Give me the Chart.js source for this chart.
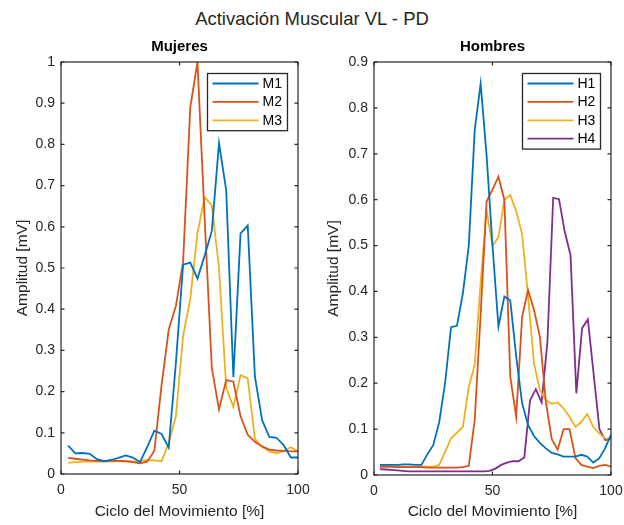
<!DOCTYPE html>
<html>
<head>
<meta charset="utf-8">
<script src="https://cdn.jsdelivr.net/npm/chart.js@4.4.1/dist/chart.umd.min.js"></script>
<style>
  body { margin: 0; background: #fff; }
  #wrap { position: relative; width: 624px; height: 525px; overflow: hidden; }
  #mainTitle { position: absolute; left: 0; top: 8px; width: 624px; text-align: center;
    font-family: "Liberation Sans", Arial, sans-serif; font-size: 18.5px; color: #262626; line-height: 22px; }
  canvas { position: absolute; top: 0; }
</style>
</head>
<body>
<div id="wrap">
  <div id="mainTitle">Activación Muscular VL - PD</div>
  <canvas id="chartMujeres" width="312" height="525" style="left:0"></canvas>
  <canvas id="chartHombres" width="312" height="525" style="left:312px"></canvas>
</div>
<script>
// --- datos: Mujeres (33 muestras del ciclo) ---
var cicloM = [3.03, 6.06, 9.09, 12.12, 15.15, 18.18, 21.21, 24.24, 27.27, 30.30, 33.33,
  36.36, 39.39, 42.42, 45.45, 48.48, 51.52, 54.55, 57.58, 60.61, 63.64, 66.67,
  69.70, 72.73, 75.76, 78.79, 81.82, 84.85, 87.88, 90.91, 93.94, 96.97, 100];
var M1 = [0.069, 0.050, 0.051, 0.049, 0.036, 0.031, 0.034, 0.039, 0.045, 0.040, 0.029,
  0.065, 0.105, 0.097, 0.064, 0.270, 0.508, 0.513, 0.474, 0.530, 0.590, 0.803,
  0.689, 0.235, 0.584, 0.603, 0.236, 0.131, 0.090, 0.088, 0.070, 0.040, 0.040];
var M2 = [0.039, 0.037, 0.035, 0.033, 0.032, 0.032, 0.032, 0.032, 0.031, 0.029, 0.026,
  0.030, 0.056, 0.215, 0.350, 0.408, 0.515, 0.890, 1.000, 0.620, 0.257, 0.157,
  0.228, 0.224, 0.140, 0.095, 0.078, 0.067, 0.059, 0.057, 0.056, 0.055, 0.055];
var M3 = [0.027, 0.029, 0.030, 0.030, 0.030, 0.030, 0.031, 0.031, 0.031, 0.030, 0.031,
  0.034, 0.033, 0.031, 0.075, 0.140, 0.335, 0.425, 0.585, 0.672, 0.652, 0.500,
  0.210, 0.163, 0.240, 0.232, 0.085, 0.066, 0.055, 0.050, 0.056, 0.065, 0.055];

// --- datos: Hombres (40 muestras del ciclo; H4 con 41) ---
var cicloH = [2.5, 5, 7.5, 10, 12.5, 15, 17.5, 20, 22.5, 25, 27.5, 30, 32.5, 35, 37.5, 40,
  42.5, 45, 47.5, 50, 52.5, 55, 57.5, 60, 62.5, 65, 67.5, 70, 72.5, 75, 77.5, 80,
  82.5, 85, 87.5, 90, 92.5, 95, 97.5, 100];
var cicloH4 = [2.44, 4.88, 7.32, 9.76, 12.2, 14.63, 17.07, 19.51, 21.95, 24.39, 26.83,
  29.27, 31.71, 34.15, 36.59, 39.02, 41.46, 43.9, 46.34, 48.78, 51.22, 53.66, 56.1,
  58.54, 60.98, 63.41, 65.85, 68.29, 70.73, 73.17, 75.61, 78.05, 80.49, 82.93, 85.37,
  87.8, 90.24, 92.68, 95.12, 97.56, 100];
var H1 = [0.022, 0.022, 0.022, 0.022, 0.023, 0.023, 0.022, 0.022, 0.045, 0.065, 0.115,
  0.200, 0.322, 0.325, 0.396, 0.500, 0.752, 0.853, 0.697, 0.500, 0.323, 0.389, 0.380,
  0.258, 0.156, 0.109, 0.085, 0.070, 0.058, 0.048, 0.045, 0.040, 0.040, 0.040, 0.044,
  0.040, 0.027, 0.036, 0.058, 0.088];
var H2 = [0.018, 0.018, 0.018, 0.017, 0.017, 0.017, 0.017, 0.017, 0.016, 0.016, 0.016,
  0.016, 0.016, 0.016, 0.017, 0.020, 0.120, 0.350, 0.596, 0.622, 0.650, 0.600, 0.214,
  0.127, 0.345, 0.403, 0.360, 0.301, 0.160, 0.078, 0.055, 0.100, 0.100, 0.037, 0.022,
  0.018, 0.015, 0.020, 0.022, 0.018];
var H3 = [0.020, 0.020, 0.019, 0.019, 0.018, 0.018, 0.018, 0.018, 0.018, 0.018, 0.022,
  0.050, 0.080, 0.092, 0.105, 0.192, 0.240, 0.420, 0.577, 0.500, 0.518, 0.600, 0.610,
  0.575, 0.525, 0.390, 0.243, 0.185, 0.163, 0.155, 0.158, 0.145, 0.127, 0.105, 0.116,
  0.133, 0.105, 0.091, 0.080, 0.078];
var H4 = [0.013, 0.012, 0.011, 0.010, 0.009, 0.008, 0.008, 0.008, 0.008, 0.008, 0.008,
  0.008, 0.008, 0.008, 0.008, 0.008, 0.008, 0.008, 0.008, 0.009, 0.014, 0.022, 0.027,
  0.030, 0.030, 0.038, 0.163, 0.187, 0.158, 0.290, 0.604, 0.601, 0.530, 0.479, 0.178,
  0.320, 0.339, 0.220, 0.100, 0.076, 0.078];

var xTicks = [0, 50, 100];

var colores = ['#0072BD', '#D95319', '#EDB120', '#7E2F8E'];
var ejeColor = '#262626';
var fuente = '"Liberation Sans", Arial, sans-serif';

function puntos(xs, ys) {
  return ys.map(function(v, i) { return { x: xs[i], y: v }; });
}

// caja estilo MATLAB con marcas hacia dentro
var cajaMatlab = {
  id: 'cajaMatlab',
  afterDraw: function(chart) {
    var ctx = chart.ctx, a = chart.chartArea;
    var sx = chart.scales.x, sy = chart.scales.y;
    var tl = 3.5;
    ctx.save();
    ctx.strokeStyle = ejeColor;
    ctx.lineWidth = 1.2;
    ctx.strokeRect(a.left, a.top, a.right - a.left, a.bottom - a.top);
    ctx.beginPath();
    sx.ticks.forEach(function(t) {
      var px = sx.getPixelForValue(t.value);
      ctx.moveTo(px, a.bottom); ctx.lineTo(px, a.bottom - tl);
      ctx.moveTo(px, a.top); ctx.lineTo(px, a.top + tl);
    });
    sy.ticks.forEach(function(t) {
      var py = sy.getPixelForValue(t.value);
      ctx.moveTo(a.left, py); ctx.lineTo(a.left + tl, py);
      ctx.moveTo(a.right, py); ctx.lineTo(a.right - tl, py);
    });
    ctx.stroke();
    ctx.restore();
  }
};

// leyenda con recuadro dentro del area
var leyendaCaja = {
  id: 'leyendaCaja',
  afterDraw: function(chart, args, opts) {
    var ctx = chart.ctx, a = chart.chartArea;
    var ds = chart.data.datasets;
    var rowH = 18.4;
    var w = opts.width, h = ds.length * rowH + 2;
    var left = a.right - opts.right - w, top = a.top + opts.top;
    ctx.save();
    ctx.fillStyle = '#fff';
    ctx.fillRect(left, top, w, h);
    ctx.strokeStyle = ejeColor;
    ctx.lineWidth = 1.3;
    ctx.strokeRect(left, top, w, h);
    ctx.font = '14px ' + fuente;
    ctx.textBaseline = 'middle';
    ds.forEach(function(d, i) {
      var y = top + 10 + i * rowH;
      ctx.strokeStyle = d.borderColor;
      ctx.lineWidth = d.borderWidth;
      ctx.beginPath();
      ctx.moveTo(left + 5, y); ctx.lineTo(left + 51, y);
      ctx.stroke();
      ctx.fillStyle = '#000';
      ctx.fillText(d.label, left + 55, y + 0.5);
    });
    ctx.restore();
  }
};

function crearGrafico(id, titulo, xsList, series, nombres, ymax, yWidth, xHeight, padRight, yTitlePad, legW) {
  var ctx = document.getElementById(id).getContext('2d');
  return new Chart(ctx, {
    type: 'line',
    data: {
      datasets: series.map(function(s, i) {
        return {
          label: nombres[i],
          data: puntos(xsList[i], s),
          borderColor: colores[i],
          backgroundColor: colores[i],
          borderWidth: 1.8,
          pointRadius: 0,
          tension: 0,
          fill: false
        };
      })
    },
    options: {
      responsive: false,
      animation: false,
      layout: { padding: { top: 0, right: padRight, left: 0, bottom: 0 } },
      plugins: {
        legend: { display: false },
        tooltip: { enabled: false },
        title: {
          display: true, text: titulo, color: '#000', fullSize: false,
          font: { family: fuente, size: 15, weight: 'bold' },
          padding: { top: 38, bottom: 6 }
        },
        leyendaCaja: { width: legW, right: 10.5, top: 11.5 }
      },
      scales: {
        x: {
          type: 'linear', min: 0, max: 100,
          afterBuildTicks: function(s) { s.ticks = xTicks.map(function(v) { return { value: v }; }); },
          ticks: { color: ejeColor, padding: 8, maxRotation: 0, font: { family: fuente, size: 14 } },
          grid: { display: false, drawTicks: false },
          border: { display: false },
          title: {
            display: true, text: 'Ciclo del Movimiento [%]', color: ejeColor,
            font: { family: fuente, size: 15.5 }, padding: { top: 0, bottom: 4 }
          },
          afterFit: function(s) { s.height = xHeight; s.paddingLeft = 0; s.paddingRight = 0; }
        },
        y: {
          min: 0, max: ymax,
          ticks: {
            stepSize: 0.1, color: ejeColor, padding: 6, font: { family: fuente, size: 14 },
            callback: function(v) { return String(Number(v.toFixed(1))); }
          },
          grid: { display: false, drawTicks: false },
          border: { display: false },
          title: {
            display: true, text: 'Amplitud [mV]', color: ejeColor,
            font: { family: fuente, size: 15.5 }, padding: { top: yTitlePad, bottom: 0 }
          },
          afterFit: function(s) { s.width = yWidth; }
        }
      }
    },
    plugins: [cajaMatlab, leyendaCaja]
  });
}

crearGrafico('chartMujeres', 'Mujeres', [cicloM, cicloM, cicloM], [M1, M2, M3],
  ['M1', 'M2', 'M3'], 1, 61, 51, 14, 13.5, 80);
crearGrafico('chartHombres', 'Hombres', [cicloH, cicloH, cicloH, cicloH4], [H1, H2, H3, H4],
  ['H1', 'H2', 'H3', 'H4'], 0.9, 62, 50, 13, 12.5, 78);
</script>
</body>
</html>
